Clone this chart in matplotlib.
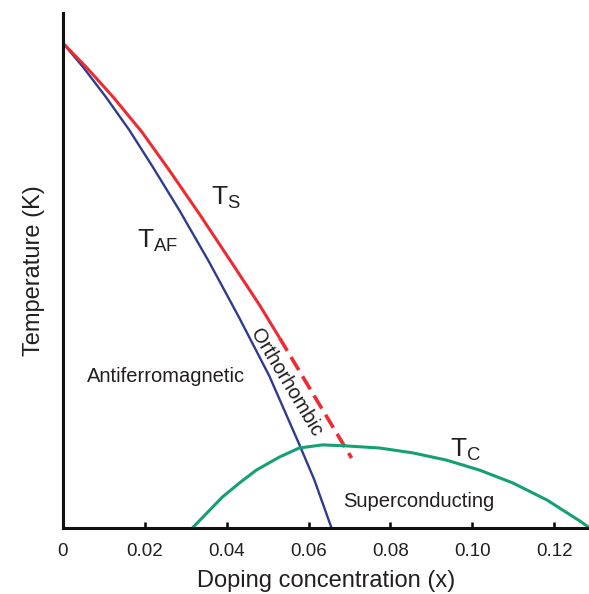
import matplotlib
matplotlib.use("Agg")
import matplotlib.pyplot as plt

plt.rcParams['font.family'] = ['Liberation Sans', 'DejaVu Sans']
plt.rcParams['mathtext.fontset'] = 'custom'
plt.rcParams['mathtext.rm'] = 'Liberation Sans'
plt.rcParams['mathtext.it'] = 'Liberation Sans'

# Structural transition T_S (solid part, then dashed extrapolation)
x_ts = [0.0, 0.0059, 0.0125, 0.0193, 0.0259, 0.0333, 0.0406, 0.0480, 0.0529]
t_ts = [140.0, 132.8, 124.1, 114.3, 103.4, 90.7, 77.7, 64.4, 54.9]
x_ts_dash = [0.0529, 0.0617, 0.0705]
t_ts_dash = [54.9, 37.5, 20.2]

# Antiferromagnetic transition T_AF
x_af = [0.0, 0.0051, 0.0105, 0.0162, 0.0218, 0.0284, 0.0357, 0.0431, 0.0504,
        0.0577, 0.0614, 0.0656]
t_af = [140.0, 132.8, 124.4, 114.9, 104.5, 91.8, 76.8, 60.6, 43.9, 24.2, 13.9, 0.0]

# Superconducting dome T_C
x_tc = [0.0316, 0.0389, 0.0430, 0.0472, 0.0529, 0.0577, 0.0634, 0.0692, 0.0773,
        0.0854, 0.0937, 0.1018, 0.1099, 0.1182, 0.1263, 0.1287]
t_tc = [0.0, 8.9, 12.9, 16.7, 20.5, 23.1, 24.0, 23.7, 23.1, 21.7, 19.6, 16.7,
        13.0, 8.1, 2.0, 0.0]

x_ticks = [0, 0.02, 0.04, 0.06, 0.08, 0.10, 0.12]
x_tick_labels = ['0', '0.02', '0.04', '0.06', '0.08', '0.10', '0.12']

RED = '#ee2a33'
BLUE = '#2e3b8f'
GREEN = '#14a074'
TXT = '#231f20'

fig = plt.figure(figsize=(5.89, 5.94), dpi=100)
ax = fig.add_axes([63 / 589, 66 / 594, 526 / 589, 515 / 594])

ax.plot(x_af, t_af, color=BLUE, lw=1.7, solid_capstyle='butt')
ax.plot(x_ts, t_ts, color=RED, lw=2.2, solid_capstyle='butt')
ax.plot(x_ts_dash, t_ts_dash, color=RED, lw=2.6, dashes=(4.2, 2.0))
ax.plot(x_tc, t_tc, color=GREEN, lw=2.2)

ax.set_xlim(0, 0.1285)
ax.set_ylim(0, 148.7)

for s in ('top', 'right'):
    ax.spines[s].set_visible(False)
for s in ('left', 'bottom'):
    ax.spines[s].set_linewidth(2.2)
    ax.spines[s].set_color('#111111')

ax.set_yticks([])
ax.set_xticks(x_ticks)
ax.set_xticklabels(x_tick_labels)
ax.tick_params(axis='x', direction='in', length=4, width=1.8, pad=10.5,
               labelsize=13.5, labelcolor=TXT)

ax.set_xlabel('Doping concentration (x)', fontsize=17, color=TXT, labelpad=7.5)
ax.set_ylabel('Temperature (K)', fontsize=17, color=TXT, labelpad=13)

ax.text(0.0361, 93.2, r'$\mathregular{T_S}$', fontsize=19, color=TXT,
        ha='left', va='baseline')
ax.text(0.0181, 80.8, r'$\mathregular{T_{AF}}$', fontsize=19, color=TXT,
        ha='left', va='baseline')
ax.text(0.0945, 20.5, r'$\mathregular{T_C}$', fontsize=19, color=TXT,
        ha='left', va='baseline')

ax.text(0.0252, 42.2, 'Antiferromagnetic', fontsize=14.5, color=TXT,
        ha='center', va='baseline')
ax.text(0.0869, 6.1, 'Superconducting', fontsize=14.5, color=TXT,
        ha='center', va='baseline')
ax.text(0.0546, 41.9, 'Orthorhombic', fontsize=14.5, color=TXT,
        ha='center', va='center', rotation=-59, rotation_mode='anchor')

fig.savefig('out.png', dpi=100)
